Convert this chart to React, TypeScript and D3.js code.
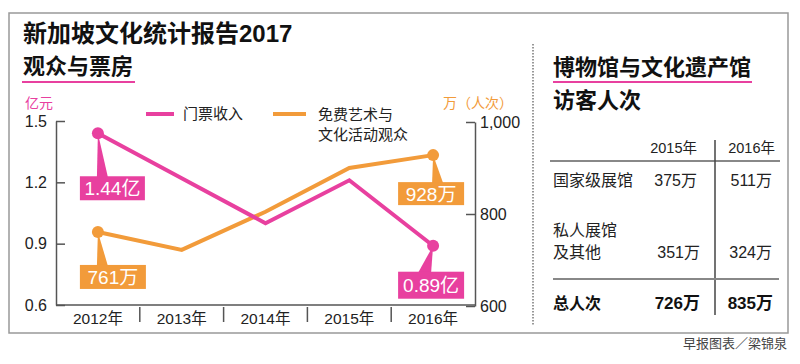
import React, { useEffect, useRef } from 'react';
import * as d3 from 'd3';

const years = ['2012年', '2013年', '2014年', '2015年', '2016年'];
const ticketRevenue = [1.44, 1.22, 1.0, 1.21, 0.89]; // 亿元
const freeAudience = [761, 722, 805, 900, 928]; // 万人次
const leftTicks = [0.6, 0.9, 1.2, 1.5];
const rightTicks = [600, 800, 1000];

const tableYears = ['2015年', '2016年'];
const nationalVisitors = ['375万', '511万'];
const privateVisitors = ['351万', '324万'];
const totalVisitors = ['726万', '835万'];

const PINK = '#e8409f';
const ORANGE = '#f29b3a';
const AXIS = '#555';
const FONT = "'Liberation Sans', 'Noto Sans CJK SC', sans-serif";

const App = () => {
  const leftRef = useRef<SVGGElement>(null);
  const rightRef = useRef<SVGGElement>(null);

  const x = d3.scaleBand<string>().domain(years).range([56, 475]);
  const cx = (d: string) => (x(d) as number) + x.bandwidth() / 2;
  const yL = d3.scaleLinear().domain([0.6, 1.5]).range([305, 121]);
  const yR = d3.scaleLinear().domain([600, 1000]).range([306, 122]);

  const pinkLine = d3
    .line<number>()
    .x((_, i) => cx(years[i]))
    .y((d) => yL(d));
  const orangeLine = d3
    .line<number>()
    .x((_, i) => cx(years[i]))
    .y((d) => yR(d));

  useEffect(() => {
    const styleAxis = (g: d3.Selection<SVGGElement, unknown, null, undefined>) => {
      g.selectAll('path.domain').attr('stroke', AXIS).attr('stroke-width', 1.5);
      g.selectAll('.tick line').attr('stroke', AXIS).attr('stroke-width', 1.5);
      g.selectAll('.tick text')
        .attr('fill', '#222')
        .attr('font-size', 16)
        .attr('font-family', FONT);
    };

    const left = d3.select(leftRef.current as SVGGElement);
    left.selectAll('*').remove();
    left
      .call(
        d3
          .axisLeft(yL)
          .tickValues(leftTicks)
          .tickSizeInner(-9)
          .tickSizeOuter(0)
          .tickPadding(9)
          .tickFormat(d3.format('.1f') as any)
      )
      .call(styleAxis);

    const right = d3.select(rightRef.current as SVGGElement);
    right.selectAll('*').remove();
    right
      .call(
        d3
          .axisRight(yR)
          .tickValues(rightTicks)
          .tickSizeInner(-9)
          .tickSizeOuter(0)
          .tickPadding(5)
      )
      .call(styleAxis);
  }, []);

  // callout boxes, placed relative to their dots
  const callouts = [
    { i: 0, v: ticketRevenue[0], y: yL, color: PINK, text: '1.44亿', dx: -18, dy: 43, w: 65, h: 24, wedge: [-1, 10] },
    { i: 0, v: freeAudience[0], y: yR, color: ORANGE, text: '761万', dx: -18, dy: 33, w: 66, h: 24, wedge: [-1, 10] },
    { i: 4, v: freeAudience[4], y: yR, color: ORANGE, text: '928万', dx: -35, dy: 27, w: 66, h: 23, wedge: [-1, 10] },
    { i: 4, v: ticketRevenue[4], y: yL, color: PINK, text: '0.89亿', dx: -35, dy: 26, w: 66, h: 27, wedge: [-15, -2] },
  ];

  return (
    <svg
      width={800}
      height={364}
      style={{ position: 'absolute', left: 0, top: 0, background: '#fff' }}
      fontFamily={FONT}
    >
      <rect x={0} y={0} width={800} height={364} fill="#fff" />
      {/* outer frame */}
      <rect x={9} y={13} width={779} height={320} fill="none" stroke="#999" strokeWidth={1.5} />

      {/* titles */}
      <text x={23} y={42} fontSize={24} fontWeight="bold" fill="#111">
        新加坡文化统计报告2017
      </text>
      <text x={23} y={74} fontSize={22} fontWeight="bold" fill="#111">
        观众与票房
      </text>
      <line x1={22} x2={135} y1={82} y2={82} stroke={PINK} strokeWidth={2} />

      {/* axis titles */}
      <text x={25} y={108} fontSize={14} fill={PINK}>
        亿元
      </text>
      <text x={443} y={108} fontSize={14} fill={ORANGE}>
        万（人次）
      </text>

      {/* legend */}
      <line x1={146} x2={174} y1={114} y2={114} stroke={PINK} strokeWidth={4} />
      <text x={183} y={119} fontSize={15} fill="#222">
        门票收入
      </text>
      <line x1={273} x2={306} y1={114} y2={114} stroke={ORANGE} strokeWidth={4} />
      <text x={318} y={120} fontSize={15} fill="#222">
        免费艺术与
      </text>
      <text x={318} y={140} fontSize={15} fill="#222">
        文化活动观众
      </text>

      {/* axes */}
      <g ref={leftRef} transform="translate(56,0)" />
      <g ref={rightRef} transform="translate(475,0)" />
      <line x1={56} x2={475} y1={305} y2={305} stroke={AXIS} strokeWidth={1.5} />
      {years.slice(1).map((d) => (
        <line
          key={'div' + d}
          x1={x(d)}
          x2={x(d)}
          y1={307}
          y2={322}
          stroke={AXIS}
          strokeWidth={1.5}
        />
      ))}
      {years.map((d) => (
        <text key={d} x={cx(d)} y={324} fontSize={15.5} textAnchor="middle" fill="#222">
          {d}
        </text>
      ))}

      {/* lines */}
      <path d={orangeLine(freeAudience) || ''} fill="none" stroke={ORANGE} strokeWidth={4} />
      <path d={pinkLine(ticketRevenue) || ''} fill="none" stroke={PINK} strokeWidth={4} />

      {/* callouts */}
      {callouts.map((c, k) => {
        const px = cx(years[c.i]);
        const py = c.y(c.v);
        const bx = px + c.dx;
        const by = py + c.dy;
        return (
          <g key={k}>
            <polygon
              points={`${px},${py} ${px + c.wedge[0]},${by + 1} ${px + c.wedge[1]},${by + 1}`}
              fill={c.color}
            />
            <circle cx={px} cy={py} r={6} fill={c.color} />
            <rect x={bx} y={by} width={c.w} height={c.h} fill={c.color} />
            <text
              x={bx + c.w / 2}
              y={by + c.h / 2 + 7}
              fontSize={19}
              fill="#fff"
              textAnchor="middle"
            >
              {c.text}
            </text>
          </g>
        );
      })}

      {/* separator */}
      <line
        x1={533}
        x2={533}
        y1={44}
        y2={325}
        stroke="#777"
        strokeWidth={1.5}
        strokeDasharray="1.5 1.5"
      />

      {/* right panel */}
      <text x={553} y={75} fontSize={22} fontWeight="bold" fill="#111">
        博物馆与文化遗产馆
      </text>
      <line x1={553} x2={752} y1={82} y2={82} stroke={PINK} strokeWidth={2} />
      <text x={553} y={108} fontSize={22} fontWeight="bold" fill="#111">
        访客人次
      </text>

      {tableYears.map((d, i) => (
        <text
          key={d}
          x={i === 0 ? 697 : 775}
          y={153}
          fontSize={14.5}
          textAnchor="end"
          fill="#222"
        >
          {d}
        </text>
      ))}
      <line x1={550} x2={780} y1={161} y2={161} stroke="#888" strokeWidth={2} />
      <line x1={715} x2={715} y1={140} y2={315} stroke="#444" strokeWidth={1.5} />

      <text x={553} y={186} fontSize={16} fill="#222">
        国家级展馆
      </text>
      {nationalVisitors.map((v, i) => (
        <text key={'n' + i} x={i === 0 ? 697 : 772} y={186} fontSize={16} textAnchor="end" fill="#222">
          {v}
        </text>
      ))}

      <text x={553} y={236} fontSize={16} fill="#222">
        私人展馆
      </text>
      <text x={553} y={258} fontSize={16} fill="#222">
        及其他
      </text>
      {privateVisitors.map((v, i) => (
        <text key={'p' + i} x={i === 0 ? 700 : 772} y={258} fontSize={16} textAnchor="end" fill="#222">
          {v}
        </text>
      ))}

      <line x1={553} x2={779} y1={279} y2={279} stroke="#888" strokeWidth={2} />
      <text x={553} y={309} fontSize={16} fontWeight="bold" fill="#111">
        总人次
      </text>
      {totalVisitors.map((v, i) => (
        <text
          key={'t' + i}
          x={i === 0 ? 700 : 773}
          y={309}
          fontSize={17}
          fontWeight="bold"
          textAnchor="end"
          fill="#111"
        >
          {v}
        </text>
      ))}

      {/* credit */}
      <text x={787} y={348} fontSize={13} textAnchor="end" fill="#444">
        早报图表／梁锦泉
      </text>
    </svg>
  );
};

export default App;
